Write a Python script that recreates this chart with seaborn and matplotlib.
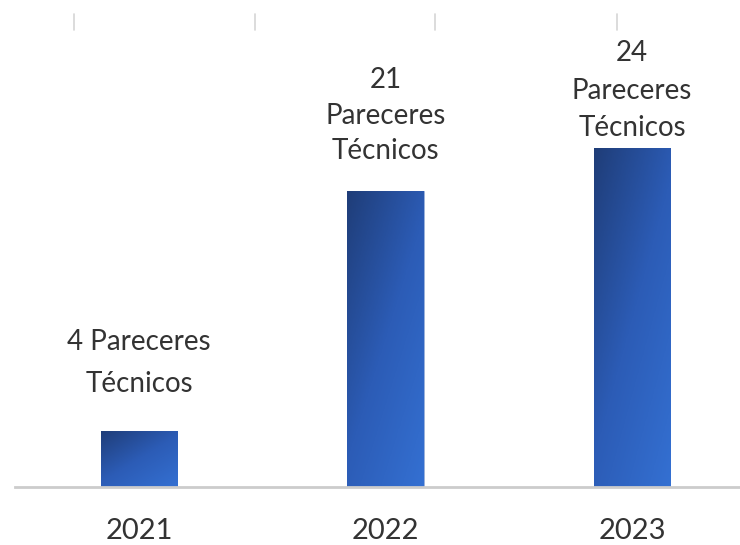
import matplotlib
matplotlib.use("Agg")
import matplotlib.pyplot as plt
import numpy as np
import pandas as pd
import seaborn as sns
from matplotlib.colors import LinearSegmentedColormap
from matplotlib.lines import Line2D

years = ["2021", "2022", "2023"]
pareceres = [4, 21, 24]
labels = ["4 Pareceres\nTécnicos", "21\nPareceres\nTécnicos", "24\nPareceres\nTécnicos"]
# afastamento do rótulo acima da barra (pt) e espaçamento entre linhas
label_offset = [24, 19, 5]
label_spacing = [1.75, 1.46, 1.55]

df = pd.DataFrame({"ano": years, "qtd": pareceres})

sns.set_theme(style="white")
plt.rcParams["font.family"] = ["Lato", "DejaVu Sans"]

fig = plt.figure(figsize=(7.4, 5.45), dpi=100)
ax = fig.add_axes([15 / 740, 58 / 545, 725 / 740, 487 / 545])

sns.barplot(data=df, x="ano", y="qtd", color="#2a55a8", width=0.312,
            ax=ax, saturation=1)

# degradê nas barras (escuro em cima/esquerda, claro embaixo/direita)
cmap = LinearSegmentedColormap.from_list("azul", ["#1f3d78", "#2c5cb6", "#3470d2"])
u, v = np.meshgrid(np.linspace(0, 1, 60), np.linspace(0, 1, 200))
grad = 0.45 * u + 0.55 * v
for p in ax.patches:
    x0, y0 = p.get_x(), p.get_y()
    w, h = p.get_width(), p.get_height()
    im = ax.imshow(grad, cmap=cmap, aspect="auto", origin="upper",
                   extent=[x0, x0 + w, y0, y0 + h], zorder=p.get_zorder() + 0.1)
    im.set_clip_path(p)
    p.set_edgecolor("#9db4dd")
    p.set_linewidth(0.6)

for i, (val, txt) in enumerate(zip(pareceres, labels)):
    ax.annotate(txt, (i, val), xytext=(0, label_offset[i]),
                textcoords="offset points", ha="center", va="bottom",
                fontsize=20, color="#333333", linespacing=label_spacing[i])

ax.set_xlim(-0.503, 2.438)
ax.set_ylim(0, 34.5)
ax.set_xlabel("")
ax.set_ylabel("")
ax.set_yticks([])
ax.tick_params(axis="x", length=0, pad=22, labelsize=21, labelcolor="#333333")
sns.despine(ax=ax, left=True, top=True, right=True)
ax.spines["bottom"].set_color("#cccccc")
ax.spines["bottom"].set_linewidth(2)

# marcas cinzas no topo (resto de grade cortada)
for xf in [74, 255, 435, 617]:
    fig.add_artist(Line2D([xf / 740, xf / 740], [1 - 14 / 545, 1 - 30 / 545],
                          color="#d5d5d5", linewidth=1.2))

fig.savefig("out.png", dpi=100, facecolor="white")
